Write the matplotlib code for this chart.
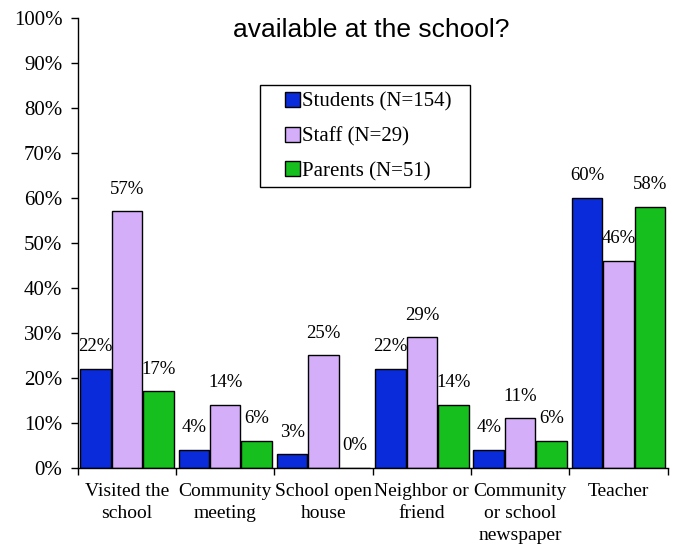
import matplotlib
matplotlib.use("Agg")
import matplotlib.pyplot as plt
from matplotlib.patches import Rectangle
import numpy as np

categories = ["Visited the\nschool", "Community\nmeeting", "School open\nhouse",
              "Neighbor or\nfriend", "Community\nor school\nnewspaper", "Teacher"]
series_names = ["Students (N=154)", "Staff (N=29)", "Parents (N=51)"]
students = [22, 4, 3, 22, 4, 60]
staff = [57, 14, 25, 29, 11, 46]
parents = [17, 6, 0, 14, 6, 58]
colors = ["#0A2BD9", "#D5AEFA", "#16BF1E"]
yticks = list(range(0, 101, 10))
title = "available at the school?"

plt.rcParams["font.family"] = ["Liberation Serif", "DejaVu Serif"]

fig = plt.figure(figsize=(6.82, 5.46), dpi=100)
ax = fig.add_axes([0.114, 0.143, 0.865, 0.824])

n = len(categories)
centers = np.arange(n) + 0.5
width = 0.31
offsets = [-0.32, 0.0, 0.32]
for vals, name, col, off in zip([students, staff, parents], series_names, colors, offsets):
    bars = ax.bar(centers + off, vals, width, color=col, edgecolor="black",
                  linewidth=1.0, label=name)
    for b, v in zip(bars, vals):
        ax.annotate(f"{v}%", (b.get_x() + b.get_width() / 2, v),
                    xytext=(0, 10), textcoords="offset points",
                    ha="center", va="bottom", fontsize=13.5)

ax.set_xlim(0, n)
ax.set_ylim(0, 100)
ax.set_yticks(yticks)
ax.set_yticklabels([f"{t}%" for t in yticks], fontsize=15)
ax.tick_params(axis="y", direction="out", length=5, width=1, pad=6)

ax.set_xticks(np.arange(n + 1))
ax.set_xticklabels([""] * (n + 1))
ax.tick_params(axis="x", direction="out", length=5, width=1)
ax.set_xticks(centers, minor=True)
ax.set_xticklabels(categories, minor=True, fontsize=14, linespacing=1.38)
ax.tick_params(axis="x", which="minor", length=0, pad=11)

for s in ["top", "right"]:
    ax.spines[s].set_visible(False)
for s in ["left", "bottom"]:
    ax.spines[s].set_linewidth(1.0)

# legend frame drawn as a separate box (wider horizontal padding than matplotlib allows)
frame = Rectangle((260 / 682, 1 - 187 / 546), 210 / 682, 102 / 546,
                  transform=fig.transFigure, facecolor="white",
                  edgecolor="black", linewidth=1.0, zorder=5, clip_on=False)
ax.add_artist(frame)
leg = ax.legend(loc="upper left", bbox_to_anchor=(285 / 682, 1 - 92 / 546),
                bbox_transform=fig.transFigure, fontsize=15,
                frameon=False,
                handlelength=0.72, handleheight=0.72, handletextpad=0.08,
                labelspacing=0.72, borderpad=0, borderaxespad=0)
leg.set_zorder(6)

fig.text(0.545, 0.945, title, ha="center", va="center", fontsize=19,
         family=["Liberation Sans", "DejaVu Sans"])

fig.savefig("out.png", dpi=100)
